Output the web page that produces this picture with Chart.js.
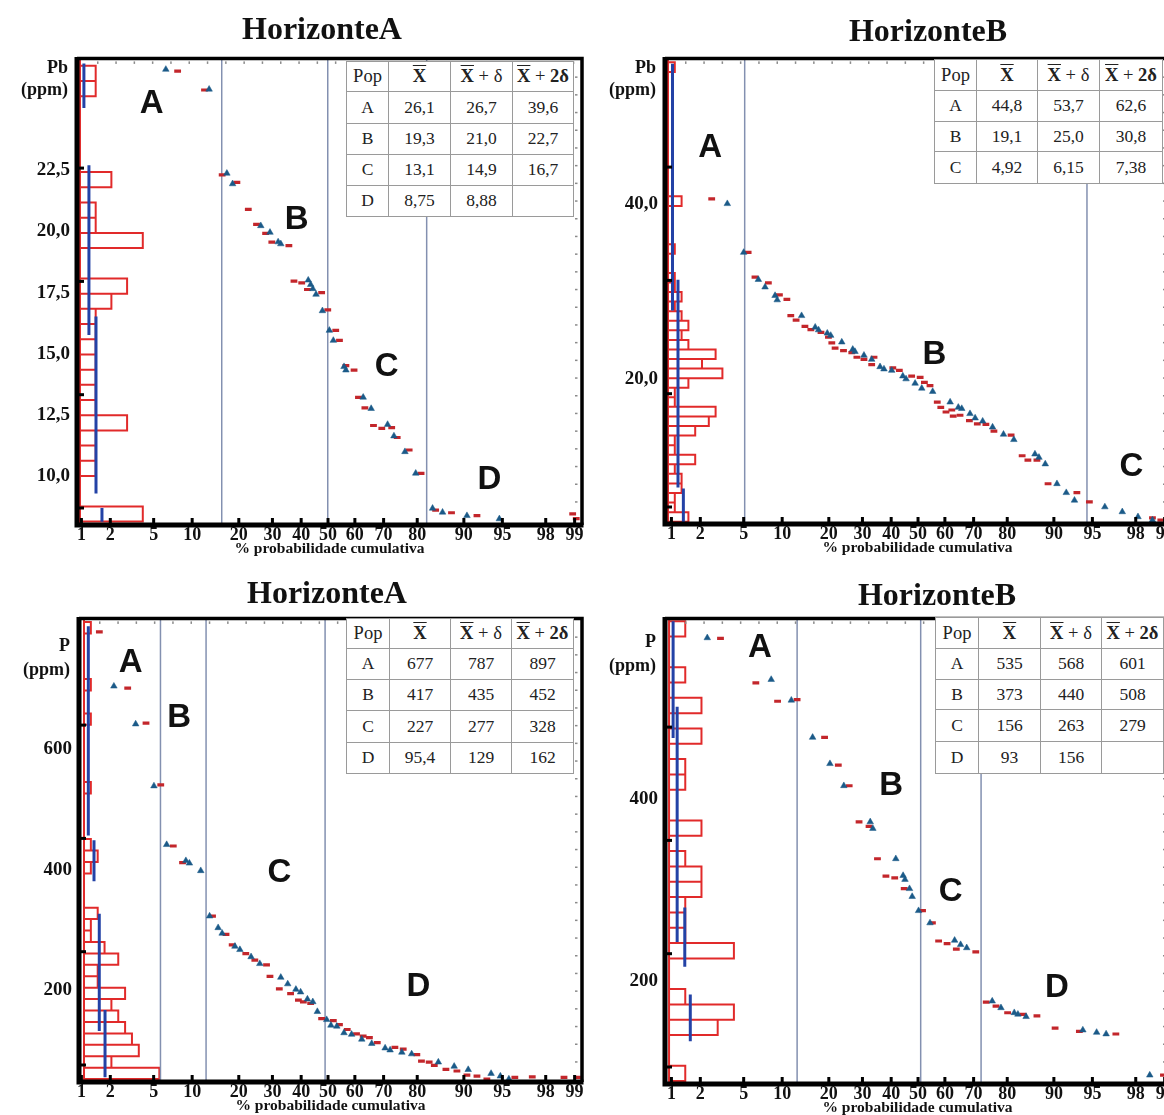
<!DOCTYPE html>
<html><head><meta charset="utf-8">
<script src="https://cdn.jsdelivr.net/npm/chart.js@4.4.1/dist/chart.umd.min.js"></script>
<style>
html,body{margin:0;padding:0;background:#fff;width:1164px;height:1115px;overflow:hidden;position:relative;font-family:"Liberation Serif","Times New Roman",serif;}
canvas.pc{position:absolute;z-index:1;}
.ttl{position:absolute;z-index:3;font-weight:bold;font-size:32px;transform:translate(-50%,-50%);white-space:nowrap;color:#111;}
table.st{position:absolute;z-index:3;border-collapse:collapse;background:#fff;font-size:17.5px;color:#222;table-layout:fixed;}
table.st td{border:1px solid #9a9a9a;text-align:center;padding:0;line-height:1;}
table.st tr.h td{font-size:18.5px;}
.ov{text-decoration:overline;font-weight:bold;}
</style></head><body>
<div class="ttl" style="left:322px;top:28px">HorizonteA</div>
<div class="ttl" style="left:928px;top:30px">HorizonteB</div>
<div class="ttl" style="left:327px;top:592px">HorizonteA</div>
<div class="ttl" style="left:937px;top:594px">HorizonteB</div>
<canvas id="c1" class="pc"></canvas>
<canvas id="c2" class="pc"></canvas>
<canvas id="c3" class="pc"></canvas>
<canvas id="c4" class="pc"></canvas>
<script>
// ---------- tick labels ----------
const xTickPct = [1,2,5,10,20,30,40,50,60,70,80,90,95,98,99];
const yTicksPbA = [22.5,20,17.5,15,12.5,10];
const yTicksPbB = [40,20];
const yTicksPA = [600,400,200];
const yTicksPB = [400,200];

// ---------- Pb, Horizonte A ----------
const pbA_tri = [[6.3,26.61],[13.1,25.8],[17.0,22.37],[18.4,21.94],[26.3,20.23],[29.2,19.96],[31.9,19.57],[32.8,19.49],[42.6,18.01],[43.5,17.83],[44.3,17.66],[45.5,17.43],[47.9,16.76],[50.5,15.96],[52.0,15.55],[56.0,14.48],[56.7,14.34],[63.0,13.23],[65.8,12.77],[71.3,12.12],[73.3,11.65],[76.6,11.01],[79.6,10.13],[83.8,8.70],[86.0,8.54],[90.5,8.40],[94.7,8.27]];
const pbA_dash = [[7.8,26.54],[12.2,25.77],[15.9,22.31],[19.5,22.0],[22.6,20.9],[25.0,20.29],[27.8,19.92],[29.8,19.56],[35.6,19.42],[37.4,17.97],[40.2,17.9],[42.3,17.63],[47.6,17.5],[49.9,16.8],[52.9,15.96],[54.3,15.55],[56.7,14.52],[59.7,14.34],[61.3,13.23],[63.6,12.8],[66.6,12.08],[69.4,11.96],[72.6,11.99],[74.3,11.59],[77.8,11.08],[81.0,10.13],[84.5,8.63],[87.8,8.52],[92.0,8.40],[98.95,8.47],[99.04,8.28]];
const pbA_histStart = 8.16, pbA_histWidth = 0.62;
const pbA_histCounts = [4,0,0,1,1,1,3,1,1,1,1,1,1,1,2,3,0,0,4,1,1,0,2,0,0,0,0,0,1,1];
const pbA_ranges = [[0.25,26.85,25.04],[0.57,22.7,15.77],[1.02,16.53,9.31],[1.4,8.71,8.15]];
const pbA_seps = [15.8,49.9,82.4];
const pbA_labels = [["A",4.8,25.2],["B",38.4,20.46],["C",71,14.48],["D",93.6,9.84]];
const pbA_table = [["A","26,1","26,7","39,6"],["B","19,3","21,0","22,7"],["C","13,1","14,9","16,7"],["D","8,75","8,88",""]];

// ---------- Pb, Horizonte B ----------
const pbB_tri = [[3.6,40.0],[5.0,34.43],[6.6,31.33],[7.45,30.47],[8.87,29.5],[9.2,29.0],[13.6,27.2],[16.6,25.88],[17.4,25.57],[19.6,25.2],[20.5,24.94],[23.6,24.18],[26.9,23.35],[27.6,23.1],[30.5,22.67],[33.1,22.2],[36.0,21.36],[37.4,21.1],[40.2,20.94],[44.3,20.3],[45.5,19.97],[48.9,19.47],[51.4,18.9],[55.5,18.53],[61.9,17.32],[64.8,16.72],[66.0,16.58],[68.8,16.0],[70.5,15.5],[72.9,15.14],[75.9,14.46],[79.0,13.64],[81.7,13.03],[86.5,11.38],[87.3,11.0],[88.5,10.25],[90.5,7.99],[91.9,6.97],[93.0,6.1],[96.1,5.34],[97.3,4.78],[98.1,4.21],[98.65,3.84]];
const pbB_dash = [[2.58,40.56],[5.45,34.43],[6.2,31.6],[7.9,30.96],[9.55,29.57],[10.8,29.07],[11.5,27.2],[12.5,26.7],[14.3,25.99],[15.6,25.6],[18.0,25.3],[19.9,24.75],[20.8,24.1],[21.7,23.5],[24.1,23.2],[26.6,22.97],[28.2,22.45],[30.5,22.2],[33.9,22.45],[33.1,21.6],[40.6,21.24],[43.0,20.94],[47.6,20.3],[50.8,20.15],[52.4,19.58],[54.5,19.2],[57.2,17.32],[58.5,16.72],[60.4,16.19],[62.5,16.42],[63.0,15.71],[65.4,15.82],[68.6,15.2],[71.2,14.84],[73.9,14.77],[76.3,14.0],[81.0,13.56],[83.7,11.19],[85.0,10.7],[86.9,10.7],[89.0,7.99],[93.3,6.97],[94.7,5.91],[98.65,4.1],[98.9,3.84]];
const pbB_histStart = 3.65, pbB_histWidth = 1.094;
const pbB_histCounts = [3,1,1,2,2,1,4,1,1,4,6,7,1,1,3,8,5,7,3,2,3,2,1,2,1,1,0,0,1,0,0,0,0,2,0,0,0,0,0,0,0,0,0,0,0,0,0,1];
const pbB_ranges = [[0.66,55.99,27.8],[1.47,31.3,7.57],[2.26,7.46,3.6]];
const pbB_seps = [5.1,94.45];
const pbB_labels = [["A",2.5,46.4],["B",56.1,22.68],["C",97.8,9.86]];
const pbB_table = [["A","44,8","53,7","62,6"],["B","19,1","25,0","30,8"],["C","4,92","6,15","7,38"]];

// ---------- P, Horizonte A ----------
const pA_tri = [[2.17,705.2],[3.48,642.3],[5.03,539.3],[6.4,441.8],[9.0,415.1],[9.55,410.9],[11.5,398.4],[13.2,323],[15.0,303.6],[15.9,294.3],[19.0,272.7],[20.3,267.2],[23.4,255.3],[26.0,243.9],[32.8,221.1],[35.2,210.2],[38.1,201.1],[39.8,196.7],[42.3,184.9],[44.3,180.5],[46.0,164.2],[49.5,150.8],[51.1,141.5],[53.3,139.8],[56.0,128.9],[58.8,126.3],[62.5,118.2],[66.0,111.1],[70.5,103.6],[72.1,100.3],[75.7,96.5],[78.5,93.8],[85.1,80.2],[88.3,73.2],[90.7,67.8],[93.8,61.3],[94.8,56.9],[95.6,52.1]];
const pA_dash = [[1.55,795.6],[2.94,702],[4.3,643.9],[5.73,541],[7.22,439.5],[8.5,411.9],[13.8,323.1],[16.8,292.7],[18.3,275.3],[21.9,260.7],[24.5,249.9],[28.1,241.8],[29.2,222.8],[32.3,202.1],[36.2,194],[39.0,183.3],[40.8,180.5],[43.5,177.8],[47.6,152.4],[52.0,149.1],[54.3,142.6],[57.2,134.5],[60.6,127.3],[63.0,123.6],[65.2,120.9],[67.9,112.7],[73.6,104.6],[76.1,102],[79.9,92.7],[81.1,81.8],[83.0,80.2],[84.2,74.8],[86.7,68.3],[88.8,65.5],[90.5,58.5],[92.0,56.9],[93.3,52.1],[96.1,54.8],[97.3,55.8],[98.7,54.8],[99.07,54.8]];
const pA_histStart = 52, pA_histWidth = 19;
const pA_histCounts = [11,4,8,7,6,5,4,6,2,2,5,3,1,1,2,0,0,0,1,2,1,0,0,0,0,1,0,0,0,0,0,1,0,0,1,0,0,0,0,1];
const pA_ranges = [[0.63,805,457],[1.46,449,381],[2.23,327,132],[3.07,167,55]];
const pA_seps = [5.7,12.5,48.9];
const pA_labels = [["A",3.14,744],["B",8.03,652],["C",32.3,394.6],["D",80.3,205]];
const pA_table = [["A","677","787","897"],["B","417","435","452"],["C","227","277","328"],["D","95,4","129","162"]];

// ---------- P, Horizonte B ----------
const pB_tri = [[2.34,576.5],[8.3,530.8],[11.6,508.1],[16.0,467.4],[20.3,438.6],[24.2,414.4],[32.6,374.8],[33.5,367.6],[41.7,334.4],[44.4,316],[45.1,311.7],[46.8,301.6],[47.8,293],[50.2,277.5],[54.5,264.1],[63.5,245],[65.6,240.3],[67.7,236.8],[75.8,178.4],[78.3,171.1],[81.8,165.7],[82.7,164],[84.6,161.4],[94.0,146.7],[95.4,144.1],[96.2,142.4],[98.56,97.3]];
const pB_dash = [[3.12,575.9],[6.3,527.2],[9.26,507],[12.7,508.9],[18.9,467.4],[22.6,437.1],[25.8,414.4],[28.9,374.8],[32.2,370],[35.1,334.4],[38.1,315.3],[41.3,313.5],[44.8,301.6],[51.7,277.5],[55.4,264.1],[57.7,244.3],[60.8,241.4],[64.1,235.4],[70.7,232.4],[74.0,177.3],[76.9,173],[80.1,165.7],[83.9,164],[86.9,162.2],[90.2,148.9],[93.6,145.2],[96.9,142.4],[98.97,97.3]];
const pB_histStart = 90.8, pB_histWidth = 16.8;
const pB_histCounts = [1,0,0,3,4,1,0,0,4,1,1,1,2,2,1,0,2,0,0,1,1,0,2,0,2,0,1,0,0,1];
const pB_ranges = [[0.25,594.6,466.7],[0.5,500.9,243.2],[0.97,281,216.2],[1.31,185.6,134.4]];
const pB_seps = [12.7,51,72.4];
const pB_labels = [["A",6.8,565.7],["B",40,414.4],["C",62.1,298],["D",90.5,192.8]];
const pB_table = [["A","535","568","601"],["B","373","440","508"],["C","156","263","279"],["D","93","156",""]];

// ---------- normal probability transform ----------
function probit(p){
  const a=[-3.969683028665376e+01,2.209460984245205e+02,-2.759285104469687e+02,1.383577518672690e+02,-3.066479806614716e+01,2.506628277459239e+00];
  const b=[-5.447609879822406e+01,1.615858368580409e+02,-1.556989798598866e+02,6.680131188771972e+01,-1.328068155288572e+01];
  const c=[-7.784894002430293e-03,-3.223964580411365e-01,-2.400758277161838e+00,-2.549732539343734e+00,4.374664141464968e+00,2.938163982698783e+00];
  const d=[7.784695709041462e-03,3.224671290700398e-01,2.445134137142996e+00,3.754408661907416e+00];
  const pl=0.02425, ph=1-pl; let q,r;
  if(p<pl){q=Math.sqrt(-2*Math.log(p));return (((((c[0]*q+c[1])*q+c[2])*q+c[3])*q+c[4])*q+c[5])/((((d[0]*q+d[1])*q+d[2])*q+d[3])*q+1);}
  if(p<=ph){q=p-0.5;r=q*q;return (((((a[0]*r+a[1])*r+a[2])*r+a[3])*r+a[4])*r+a[5])*q/(((((b[0]*r+b[1])*r+b[2])*r+b[3])*r+b[4])*r+1);}
  q=Math.sqrt(-2*Math.log(1-p));return -(((((c[0]*q+c[1])*q+c[2])*q+c[3])*q+c[4])*q+c[5])/((((d[0]*q+d[1])*q+d[2])*q+d[3])*q+1);
}
const GAP = {x:NaN, y:NaN};
function rects(start,width,counts){
  const pts=[];
  counts.forEach((n,k)=>{ if(!n) return; const lo=start+k*width, hi=lo+width;
    pts.push({x:0,y:lo},{x:n,y:lo},{x:n,y:hi},{x:0,y:hi},GAP); });
  return pts;
}
function segs(ranges){ const pts=[]; ranges.forEach(([cx,t,b])=>pts.push({x:cx,y:t},{x:cx,y:b},GAP)); return pts; }
function toXY(arr){ return arr.map(([p,v])=>({x:probit(p/100), y:v})); }

Chart.defaults.font.family = '"Liberation Serif","Times New Roman",serif';
Chart.defaults.color = '#111';

function fmtComma(v){ return v.toFixed(1).replace('.', ','); }

function makePanel(o){
  const cv=document.getElementById(o.id);
  cv.width=o.w; cv.height=o.h;
  cv.style.left=o.left+'px'; cv.style.top=o.top+'px';
  cv.style.width=o.w+'px'; cv.style.height=o.h+'px';
  const sepPts=[]; o.seps.forEach(p=>{const x=probit(p/100); sepPts.push({x:x,y:o.yMin},{x:x,y:o.yMax},GAP);});
  const deco={
    id:'deco'+o.id,
    afterDraw(chart){
      const ctx=chart.ctx, ca=chart.chartArea, sx=chart.scales.x, sy=chart.scales.y;
      ctx.save();
      ctx.fillStyle='#8a8a8a';
      for(let x=ca.left+20;x<ca.right-8;x+=18.3) ctx.fillRect(x,ca.top+3,1.5,2.5);
      for(let y=ca.top+18;y<ca.bottom-8;y+=17.7) ctx.fillRect(ca.right-7,y,2.5,1.5);
      ctx.fillStyle='#000';
      xTickPct.forEach(p=>{const x=sx.getPixelForValue(probit(p/100)); ctx.fillRect(x-1.5,ca.bottom-7,3,7);});
      for(let i=0;i<4;i++){const y=ca.bottom-17-i*113.3; ctx.fillRect(ca.left,y-1.5,7,3);}
      ctx.strokeStyle='#000';
      ctx.lineWidth=3.5; ctx.beginPath(); ctx.moveTo(ca.left,ca.top); ctx.lineTo(ca.right,ca.top); ctx.lineTo(ca.right,ca.bottom); ctx.stroke();
      ctx.lineWidth=5; ctx.beginPath(); ctx.moveTo(ca.left,ca.top-1.5); ctx.lineTo(ca.left,ca.bottom); ctx.lineTo(ca.right+1.5,ca.bottom); ctx.stroke();
      ctx.fillStyle='#111'; ctx.font='bold 33px "Liberation Sans", Arial, sans-serif';
      ctx.textAlign='center'; ctx.textBaseline='middle';
      o.labels.forEach(([t,p,v])=>ctx.fillText(t, sx.getPixelForValue(probit(p/100)), sy.getPixelForValue(v)));
      ctx.font='bold 18px "Liberation Serif", serif'; ctx.textAlign='right';
      o.ylab.forEach((t,i)=>ctx.fillText(t, ca.left-9, ca.top+o.ylabY[i]));
      ctx.restore();
    }
  };
  return new Chart(cv,{
    type:'scatter',
    data:{datasets:[
      {data:toXY(o.tri), pointStyle:'triangle', pointRadius:3.8, backgroundColor:'#1b5a88', borderColor:'#1b5a88', borderWidth:0.5, order:0},
      {data:toXY(o.dash), pointStyle:'line', pointRadius:3.4, borderColor:'#c3262b', borderWidth:3.2, order:1},
      {data:sepPts, showLine:true, spanGaps:false, pointRadius:0, borderColor:'#8390b0', borderWidth:1.5, order:5},
      {data:segs(o.ranges), xAxisID:'xh', showLine:true, spanGaps:false, pointRadius:0, borderColor:'#2342a6', borderWidth:3, order:3},
      {data:rects(o.hStart,o.hWidth,o.hCounts), xAxisID:'xh', showLine:true, spanGaps:false, pointRadius:0, borderColor:'#e12a2a', borderWidth:2, order:6},
      {data:[{x:0,y:o.yMin},{x:0,y:o.yMax}], xAxisID:'xh', showLine:true, pointRadius:0, borderColor:'#e12a2a', borderWidth:2, order:6}
    ]},
    options:{
      responsive:false, animation:false, devicePixelRatio:1,
      layout:{padding:{top:o.padTop,right:o.padRight,left:0,bottom:0}},
      plugins:{legend:{display:false}, tooltip:{enabled:false}},
      scales:{
        x:{type:'linear', min:o.xMin, max:o.xMax, grid:{display:false,drawTicks:false}, border:{display:false},
           afterBuildTicks:s=>{s.ticks=xTickPct.map(p=>({value:probit(p/100)}));},
           afterFit:s=>{s.height=35;},
           ticks:{autoSkip:false, maxRotation:0, padding:0, color:'#111', font:{size:18,weight:'bold'}, callback:(v,i)=>String(xTickPct[i])},
           title:{display:true, text:'% probabilidade cumulativa', color:'#111', font:{size:15.5,weight:'bold'}, padding:{top:0,bottom:2}}},
        y:{type:'linear', min:o.yMin, max:o.yMax, grid:{display:false,drawTicks:false}, border:{display:false},
           afterBuildTicks:s=>{s.ticks=o.yTicks.map(v=>({value:v}));},
           afterFit:s=>{s.width=o.yWidth;},
           ticks:{autoSkip:false, padding:7, color:'#111', font:{size:19,weight:'bold'}, callback:(v,i)=>o.yFmt(o.yTicks[i])}},
        xh:{type:'linear', display:false, min:o.hxMin, max:o.hxMax}
      }
    },
    plugins:[deco]
  });
}

makePanel({id:'c1', left:0, top:40, w:590, h:520, padTop:13, padRight:8, yWidth:77,
  xMin:-2.368, xMax:2.396, yMin:8.02, yMax:27.06, yTicks:yTicksPbA, yFmt:fmtComma,
  tri:pbA_tri, dash:pbA_dash, hStart:pbA_histStart, hWidth:pbA_histWidth, hCounts:pbA_histCounts,
  hxMin:-0.19, hxMax:31.97, ranges:pbA_ranges, seps:pbA_seps, labels:pbA_labels, ylab:['Pb','(ppm)'], ylabY:[10,32]});
makePanel({id:'c2', left:590, top:40, w:590, h:519, padTop:13, padRight:10, yWidth:75,
  xMin:-2.387, xMax:2.377, yMin:3.39, yMax:56.61, yTicks:yTicksPbB, yFmt:fmtComma,
  tri:pbB_tri, dash:pbB_dash, hStart:pbB_histStart, hWidth:pbB_histWidth, hCounts:pbB_histCounts,
  hxMin:-0.44, hxMax:73.8, ranges:pbB_ranges, seps:pbB_seps, labels:pbB_labels, ylab:['Pb','(ppm)'], ylabY:[10,32]});
makePanel({id:'c3', left:0, top:600, w:590, h:517, padTop:8, padRight:8, yWidth:79,
  xMin:-2.349, xMax:2.396, yMin:47.2, yMax:817.9, yTicks:yTicksPA, yFmt:v=>String(v),
  tri:pA_tri, dash:pA_dash, hStart:pA_histStart, hWidth:pA_histWidth, hCounts:pA_histCounts,
  hxMin:-0.73, hxMax:72.7, ranges:pA_ranges, seps:pA_seps, labels:pA_labels, ylab:['P','(ppm)'], ylabY:[28,52]});
makePanel({id:'c4', left:590, top:600, w:590, h:519, padTop:12, padRight:10, yWidth:75,
  xMin:-2.387, xMax:2.377, yMin:87.6, yMax:597.8, yTicks:yTicksPB, yFmt:v=>String(v),
  tri:pB_tri, dash:pB_dash, hStart:pB_histStart, hWidth:pB_histWidth, hCounts:pB_histCounts,
  hxMin:-0.25, hxMax:30.9, ranges:pB_ranges, seps:pB_seps, labels:pB_labels, ylab:['P','(ppm)'], ylabY:[24,48]});

// ---------- statistics tables ----------
function makeTable(rows, left, top, cols, heights){
  const t=document.createElement('table'); t.className='st';
  t.style.left=left+'px'; t.style.top=top+'px';
  const cg=document.createElement('colgroup');
  cols.forEach(w=>{const c=document.createElement('col'); c.style.width=w+'px'; cg.appendChild(c);});
  t.appendChild(cg);
  const head=['Pop','<span class="ov">X</span>','<span class="ov">X</span> + δ','<span class="ov">X</span> + <b>2δ</b>'];
  const all=[head].concat(rows);
  all.forEach((r,i)=>{
    const tr=document.createElement('tr'); if(i===0) tr.className='h';
    tr.style.height=heights[i]+'px';
    r.forEach(c=>{const td=document.createElement('td'); td.innerHTML=c; tr.appendChild(td);});
    t.appendChild(tr);
  });
  document.body.appendChild(t);
}
makeTable(pbA_table, 346, 61, [42,62,62,61], [30,32,31,31,31]);
makeTable(pbB_table, 934, 59, [42,61,62,63], [31,31,30,32]);
makeTable(pA_table, 346, 618, [43,61,61,62], [30,31,31,32,31]);
makeTable(pB_table, 935, 617, [43,62,61,62], [31,31,30,32,32]);
</script>
</body></html>
